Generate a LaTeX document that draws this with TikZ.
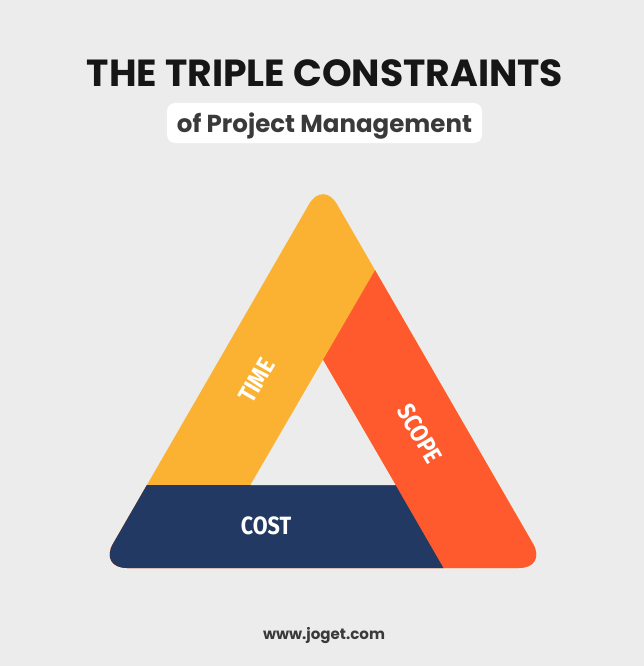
\documentclass[tikz,border=0pt]{standalone}
\usepackage{fontspec}
\setmainfont{Poppins}
\newfontfamily\labelfont[FakeStretch=0.86]{Fira Sans}
\definecolor{bgc}{HTML}{ECECEC}
\definecolor{timec}{HTML}{FBB232}
\definecolor{scopec}{HTML}{FF5A2E}
\definecolor{costc}{HTML}{223A63}
\definecolor{titlec}{HTML}{161616}
\definecolor{subc}{HTML}{3A3A3A}
\tikzset{
  seglabel/.style={text=white, inner sep=0pt, font=\labelfont\bfseries\fontsize{25}{25}\selectfont},
}
\begin{document}
\begin{tikzpicture}[x=1pt,y=-1pt]
\fill[bgc] (0,0) rectangle (644,666);
\useasboundingbox (0,0) rectangle (644,666);
% geometry
\coordinate (A) at (323,180);
\coordinate (BL) at (99,568);
\coordinate (BR) at (547,568);
\coordinate (iL) at (250.5,485);
\coordinate (iR) at (395.5,485);
\coordinate (iA) at (323,360);
\coordinate (Pext) at (439,160);
\coordinate (Cext) at (461.9,600);
% title
\node[anchor=base, text=titlec, inner sep=0pt] (title) at (325,87)
  {\resizebox{476pt}{!}{\bfseries THE TRIPLE CONSTRAINTS}};
\node[fill=white, rounded corners=8pt, minimum width=315pt, minimum height=40pt, inner sep=0pt] (subbox) at (324.5,123) {};
\node[anchor=base, text=subc, inner sep=0pt] (subtitle) at (324.5,132)
  {\resizebox{295pt}{!}{\bfseries of Project Management}};
% triangle
\begin{scope}
  \clip[rounded corners=28pt] (A) -- (BL) -- (BR) -- cycle;
  \fill[timec] (0,150) rectangle (644,600);
  \fill[scopec] (iA) -- (Pext) -- (700,160) -- (700,600) -- (0,600) -- (0,485) -- (iR) -- cycle;
  \fill[costc] (0,485) -- (iR) -- (Cext) -- (0,600) -- cycle;
\end{scope}
\fill[bgc] (iL) -- (iA) -- (iR) -- cycle;
% labels
\node[seglabel] (cost) at (266,526) {COST};
\node[seglabel, rotate=60] (time) at (257,380.5) {TIME};
\node[seglabel, rotate=-60] (scope) at (420,434) {SCOPE};
% footer
\node[anchor=base, text=subc, inner sep=0pt] (footer) at (324,639)
  {\resizebox{122pt}{!}{\bfseries www.joget.com}};
\end{tikzpicture}
\end{document}
